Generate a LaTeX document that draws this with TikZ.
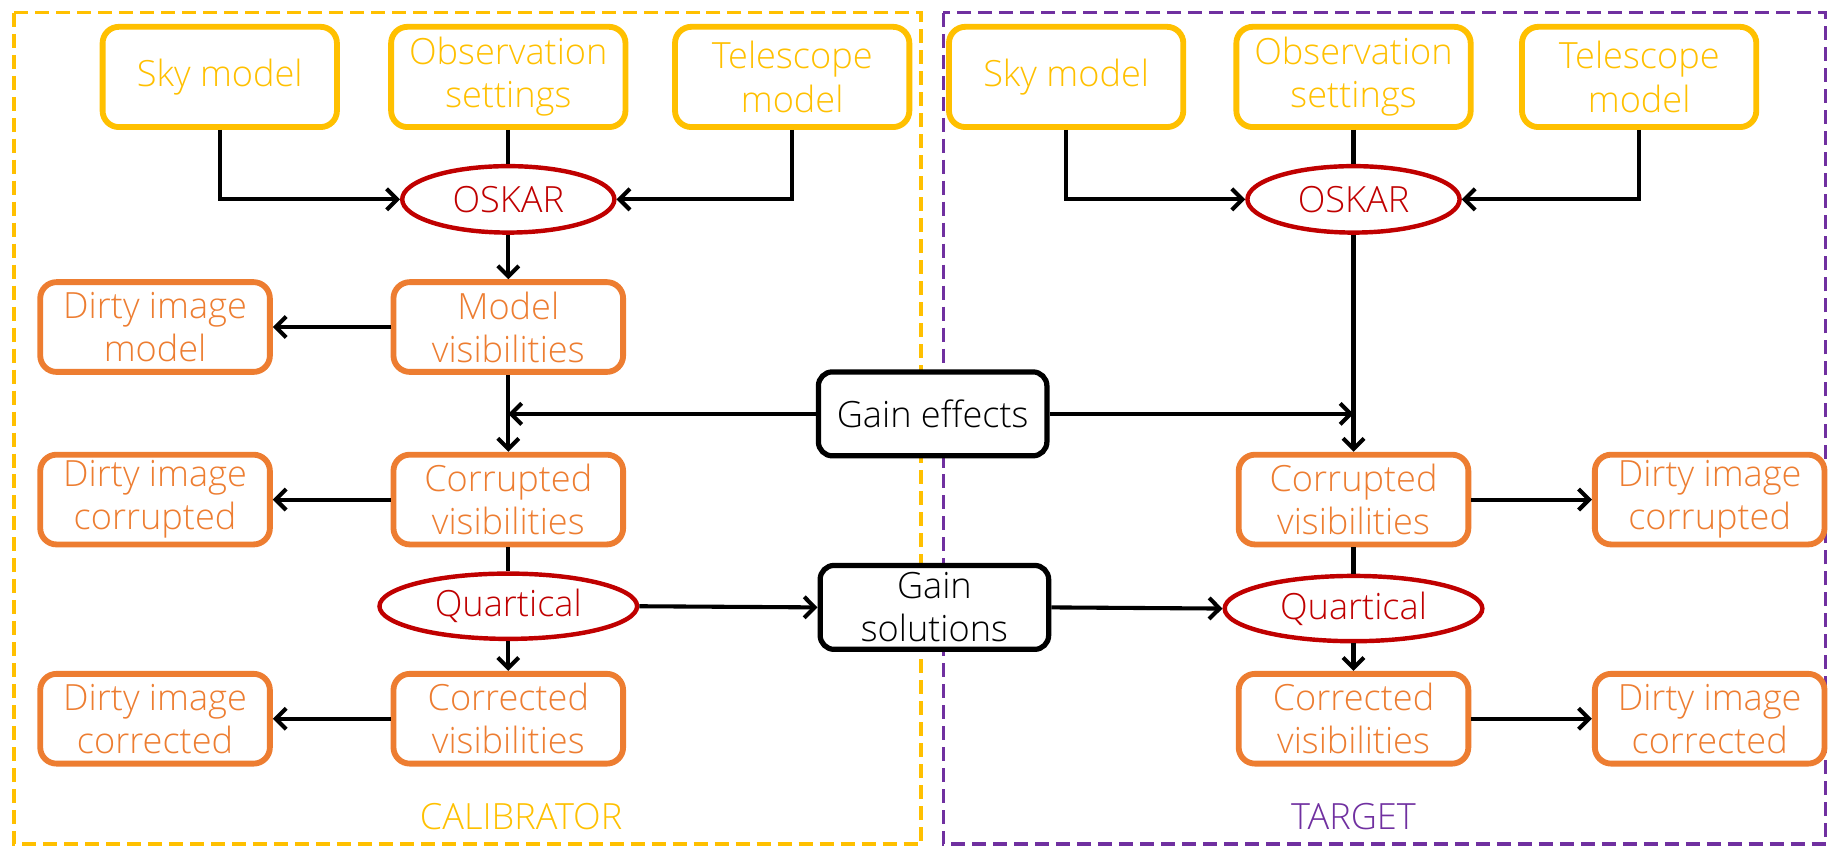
\documentclass[tikz,border=0pt]{standalone}
\usepackage{fontspec}
\setmainfont{Open Sans Light}
\usetikzlibrary{arrows.meta,shapes.geometric}
\definecolor{cyel}{HTML}{FFC000}
\definecolor{corg}{HTML}{ED7D31}
\definecolor{cred}{HTML}{C00000}
\definecolor{cpur}{HTML}{7030A0}
\begin{document}
\begin{tikzpicture}[x=1pt,y=-1pt,
 every node/.style={font=\fontsize{31}{37}\selectfont, align=center, inner sep=0pt},
 ybox/.style={draw=cyel, text=cyel, line width=5pt, rounded corners=14pt, minimum width=201pt, minimum height=86pt, fill=white},
 obox/.style={draw=corg, text=corg, line width=5pt, rounded corners=14pt, minimum width=197pt, minimum height=77pt, fill=white},
 kbox/.style={draw=black, text=black, line width=4.5pt, rounded corners=12pt, minimum width=196pt, minimum height=72pt, fill=white},
 proc/.style={ellipse, draw=cred, text=cred, line width=3.8pt, minimum width=182pt, minimum height=57pt, fill=white},
 conn/.style={line width=3.5pt, draw=black},
 arr/.style={conn, -{Straight Barb[length=9pt,width=18pt]}},
 frmbox/.style={line width=2.8pt, dash pattern=on 12pt off 6pt},
]
\useasboundingbox (0,0) rectangle (1568,726);
% frames
\draw[frmbox, draw=cyel] (12,11) rectangle (790,724);
\draw[frmbox, draw=cpur] (809,11) rectangle (1566,724);
\node[text=cyel] (calL) at (447,700) {CALIBRATOR};
\node[text=cpur] (tarL) at (1161,700) {TARGET};
% calibrator
\node[ybox] (skyL) at (188.5,66) {Sky model};
\node[ybox] (obsL) at (436,66) {Observation\\settings};
\node[ybox] (telL) at (679.5,66) {Telescope\\model};
\node[proc] (oskL) at (436,171) {OSKAR};
\node[obox] (mvL) at (436,280.5) {Model\\visibilities};
\node[obox] (dmL) at (133,280.5) {Dirty image\\model};
\node[obox] (cvL) at (436,428.5) {Corrupted\\visibilities};
\node[obox] (dcL) at (133,428.5) {Dirty image\\corrupted};
\node[proc, minimum width=221pt, minimum height=56pt] (quL) at (436,520) {Quartical};
\node[obox] (rvL) at (436,616.5) {Corrected\\visibilities};
\node[obox] (drL) at (133,616.5) {Dirty image\\corrected};
% middle
\node[kbox] (ge) at (800,355) {Gain effects};
\node[kbox] (gs) at (801.5,521) {Gain\\solutions};
% target
\node[ybox] (skyR) at (914.5,66) {Sky model};
\node[ybox] (obsR) at (1161,66) {Observation\\settings};
\node[ybox] (telR) at (1406,66) {Telescope\\model};
\node[proc] (oskR) at (1161,171) {OSKAR};
\node[obox] (cvR) at (1161,428.5) {Corrupted\\visibilities};
\node[obox] (dcR) at (1466.5,428.5) {Dirty image\\corrupted};
\node[proc, minimum width=221pt, minimum height=56pt] (quR) at (1161,522) {Quartical};
\node[obox] (rvR) at (1161,616.5) {Corrected\\visibilities};
\node[obox] (drR) at (1466.5,616.5) {Dirty image\\corrected};
% connectors calibrator
\draw[arr] (skyL.south) |- (oskL.west);
\draw[arr] (telL.south) |- (oskL.east);
\draw[conn] (obsL.south) -- (oskL.north);
\draw[arr] (oskL.south) -- (mvL.north);
\draw[arr] (mvL.west) -- (dmL.east);
\draw[arr] (mvL.south) -- (cvL.north);
\draw[arr] (cvL.west) -- (dcL.east);
\draw[conn] (cvL.south) -- (quL.north);
\draw[arr] (quL.south) -- (rvL.north);
\draw[arr] (rvL.west) -- (drL.east);
% middle connectors
\draw[arr] (ge.west) -- (mvL.south |- ge.west);
\draw[arr] (ge.east) -- (oskR.south |- ge.east);
\draw[arr] (quL.east) -- (gs.west);
\draw[arr] (gs.east) -- (quR.west);
% connectors target
\draw[arr] (skyR.south) |- (oskR.west);
\draw[arr] (telR.south) |- (oskR.east);
\draw[conn] (obsR.south) -- (oskR.north);
\draw[arr] (oskR.south) -- (cvR.north);
\draw[arr] (cvR.east) -- (dcR.west);
\draw[conn] (cvR.south) -- (quR.north);
\draw[arr] (quR.south) -- (rvR.north);
\draw[arr] (rvR.east) -- (drR.west);
\end{tikzpicture}
\end{document}
